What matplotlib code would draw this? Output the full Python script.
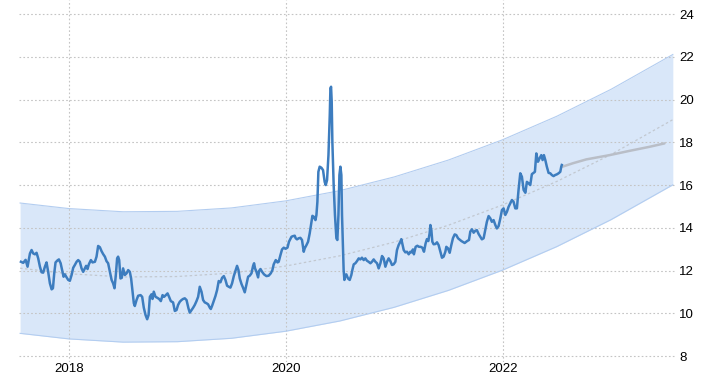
import matplotlib
matplotlib.use("Agg")
import matplotlib.pyplot as plt

# weekly series, decimal years
dates = [
    2017.558, 2017.579, 2017.601, 2017.619, 2017.641, 2017.656, 2017.671, 2017.687, 2017.702, 2017.717,
    2017.733, 2017.748, 2017.763, 2017.779, 2017.794, 2017.809, 2017.825, 2017.841, 2017.853, 2017.865,
    2017.877, 2017.896, 2017.908, 2017.924, 2017.938, 2017.951, 2017.963, 2017.979, 2017.994, 2018.009,
    2018.025, 2018.040, 2018.055, 2018.071, 2018.086, 2018.101, 2018.117, 2018.132, 2018.147, 2018.159,
    2018.172, 2018.184, 2018.203, 2018.218, 2018.240, 2018.255, 2018.270, 2018.286, 2018.301, 2018.316,
    2018.332, 2018.347, 2018.362, 2018.378, 2018.394, 2018.408, 2018.421, 2018.433, 2018.445, 2018.454,
    2018.464, 2018.476, 2018.488, 2018.500, 2018.516, 2018.532, 2018.547, 2018.562, 2018.574, 2018.587,
    2018.599, 2018.608, 2018.624, 2018.639, 2018.661, 2018.676, 2018.691, 2018.707, 2018.722, 2018.735,
    2018.747, 2018.762, 2018.771, 2018.783, 2018.799, 2018.814, 2018.832, 2018.848, 2018.864, 2018.878,
    2018.894, 2018.910, 2018.924, 2018.940, 2018.961, 2018.977, 2018.993, 2019.007, 2019.023, 2019.039,
    2019.053, 2019.069, 2019.085, 2019.103, 2019.115, 2019.131, 2019.146, 2019.161, 2019.177, 2019.192,
    2019.207, 2019.223, 2019.238, 2019.253, 2019.269, 2019.284, 2019.300, 2019.309, 2019.321, 2019.336,
    2019.352, 2019.367, 2019.382, 2019.398, 2019.413, 2019.429, 2019.444, 2019.459, 2019.475, 2019.490,
    2019.505, 2019.521, 2019.536, 2019.551, 2019.564, 2019.576, 2019.592, 2019.606, 2019.622, 2019.638,
    2019.653, 2019.668, 2019.684, 2019.699, 2019.708, 2019.717, 2019.730, 2019.745, 2019.754, 2019.767,
    2019.782, 2019.800, 2019.822, 2019.843, 2019.862, 2019.877, 2019.889, 2019.908, 2019.924, 2019.935,
    2019.951, 2019.966, 2019.982, 2019.997, 2020.016, 2020.030, 2020.053, 2020.067, 2020.083, 2020.092,
    2020.104, 2020.120, 2020.135, 2020.150, 2020.166, 2020.175, 2020.191, 2020.206, 2020.221, 2020.237,
    2020.246, 2020.258, 2020.274, 2020.283, 2020.292, 2020.301, 2020.313, 2020.329, 2020.344, 2020.359,
    2020.369, 2020.381, 2020.394, 2020.406, 2020.412, 2020.418, 2020.424, 2020.430, 2020.442, 2020.454,
    2020.467, 2020.476, 2020.486, 2020.495, 2020.504, 2020.513, 2020.519, 2020.528, 2020.534, 2020.541,
    2020.550, 2020.559, 2020.574, 2020.590, 2020.605, 2020.614, 2020.627, 2020.642, 2020.657, 2020.673,
    2020.688, 2020.703, 2020.719, 2020.734, 2020.749, 2020.764, 2020.781, 2020.795, 2020.811, 2020.827,
    2020.842, 2020.857, 2020.873, 2020.888, 2020.903, 2020.919, 2020.934, 2020.949, 2020.965, 2020.980,
    2020.995, 2021.011, 2021.026, 2021.041, 2021.057, 2021.066, 2021.075, 2021.088, 2021.103, 2021.118,
    2021.134, 2021.149, 2021.161, 2021.173, 2021.182, 2021.198, 2021.214, 2021.229, 2021.244, 2021.260,
    2021.275, 2021.290, 2021.302, 2021.315, 2021.327, 2021.334, 2021.343, 2021.352, 2021.364, 2021.380,
    2021.395, 2021.410, 2021.426, 2021.441, 2021.456, 2021.472, 2021.481, 2021.496, 2021.512, 2021.527,
    2021.542, 2021.558, 2021.573, 2021.589, 2021.620, 2021.650, 2021.673, 2021.690, 2021.702, 2021.717,
    2021.733, 2021.748, 2021.763, 2021.779, 2021.794, 2021.809, 2021.825, 2021.840, 2021.855, 2021.871,
    2021.887, 2021.901, 2021.917, 2021.933, 2021.947, 2021.963, 2021.979, 2021.994, 2022.009, 2022.025,
    2022.040, 2022.055, 2022.071, 2022.086, 2022.101, 2022.117, 2022.132, 2022.147, 2022.163, 2022.178,
    2022.194, 2022.210, 2022.224, 2022.240, 2022.255, 2022.270, 2022.286, 2022.298, 2022.311, 2022.326,
    2022.341, 2022.357, 2022.369, 2022.381, 2022.394, 2022.408, 2022.424, 2022.440, 2022.454, 2022.470,
    2022.485, 2022.500, 2022.516, 2022.532, 2022.541, 2022.546,
]
values = [
    12.41, 12.36, 12.50, 12.18, 12.80, 12.96, 12.80, 12.76, 12.83, 12.57,
    12.18, 11.92, 11.90, 12.18, 12.38, 11.94, 11.40, 11.12, 11.17, 11.87,
    12.38, 12.48, 12.52, 12.34, 12.02, 11.71, 11.82, 11.68, 11.56, 11.52,
    11.79, 12.13, 12.26, 12.41, 12.49, 12.41, 12.10, 11.94, 12.10, 12.22,
    12.07, 12.29, 12.49, 12.38, 12.41, 12.65, 13.15, 13.09, 12.91, 12.77,
    12.65, 12.44, 12.34, 11.94, 11.56, 11.40, 11.17, 11.79, 12.57, 12.65,
    12.49, 11.63, 11.66, 12.10, 11.79, 11.87, 12.02, 11.94, 11.63, 11.01,
    10.47, 10.34, 10.62, 10.82, 10.85, 10.77, 10.26, 9.92, 9.72, 9.92,
    10.77, 10.89, 10.67, 11.01, 10.77, 10.73, 10.67, 10.57, 10.85, 10.77,
    10.85, 10.93, 10.77, 10.57, 10.51, 10.11, 10.15, 10.39, 10.54, 10.62,
    10.67, 10.70, 10.62, 10.23, 10.03, 10.15, 10.26, 10.39, 10.57, 10.77,
    11.24, 11.01, 10.62, 10.51, 10.47, 10.42, 10.26, 10.20, 10.35, 10.57,
    10.81, 11.09, 11.51, 11.45, 11.66, 11.74, 11.56, 11.29, 11.24, 11.20,
    11.40, 11.74, 11.98, 12.22, 12.02, 11.63, 11.37, 11.20, 10.98, 11.35,
    11.71, 11.76, 11.87, 12.22, 12.34, 12.10, 11.94, 11.68, 11.98, 12.07,
    11.94, 11.82, 11.74, 11.76, 11.87, 12.02, 12.29, 12.49, 12.38, 12.41,
    12.72, 12.99, 13.07, 13.02, 13.07, 13.35, 13.58, 13.61, 13.63, 13.51,
    13.46, 13.51, 13.53, 13.43, 12.88, 13.04, 13.19, 13.35, 13.74, 14.28,
    14.56, 14.52, 14.36, 14.60, 15.22, 16.62, 16.86, 16.81, 16.70, 16.15,
    16.00, 16.23, 17.40, 19.27, 20.52, 20.60, 19.90, 18.03, 16.00, 14.60,
    13.51, 13.43, 14.60, 16.47, 16.86, 16.47, 14.60, 13.04, 12.02, 11.56,
    11.79, 11.82, 11.63, 11.56, 11.79, 12.02, 12.29, 12.34, 12.44, 12.57,
    12.52, 12.60, 12.49, 12.57, 12.46, 12.41, 12.34, 12.41, 12.52, 12.41,
    12.34, 12.10, 12.34, 12.68, 12.57, 12.18, 12.41, 12.57, 12.44, 12.26,
    12.29, 12.41, 12.96, 13.19, 13.35, 13.47, 13.27, 12.96, 12.85, 12.88,
    12.76, 12.88, 12.85, 12.99, 12.76, 13.11, 13.16, 13.11, 13.11, 13.07,
    12.88, 13.27, 13.47, 13.38, 13.74, 14.13, 13.89, 13.35, 13.23, 13.24,
    13.32, 13.19, 12.88, 12.60, 12.65, 12.88, 13.11, 13.04, 12.83, 13.19,
    13.51, 13.69, 13.66, 13.51, 13.38, 13.29, 13.38, 13.43, 13.82, 13.93,
    13.77, 13.86, 13.89, 13.71, 13.58, 13.46, 13.51, 13.89, 14.28, 14.55,
    14.44, 14.28, 14.36, 14.13, 13.97, 14.08, 14.44, 14.83, 14.91, 14.60,
    14.75, 14.98, 15.14, 15.30, 15.22, 14.91, 14.91, 15.77, 16.55, 16.39,
    15.77, 15.64, 16.15, 16.08, 16.00, 16.51, 16.57, 16.62, 17.48, 17.09,
    17.25, 17.40, 17.17, 17.40, 17.17, 16.86, 16.57, 16.55, 16.47, 16.42,
    16.47, 16.50, 16.55, 16.62, 16.86, 16.94,
]

# forecast
fc_dates = [2022.546, 2022.648, 2022.771, 2022.986, 2023.170, 2023.355, 2023.493]
fc_values = [16.85, 17.02, 17.20, 17.40, 17.60, 17.79, 17.95]

# long-term trend and its band
trend_dates = [2017.55, 2018.0, 2018.5, 2019.0, 2019.5, 2020.0, 2020.5,
               2021.0, 2021.5, 2022.0, 2022.5, 2023.0, 2023.57]
trend_mid = [12.11, 11.85, 11.70, 11.72, 11.88, 12.21, 12.69,
             13.33, 14.12, 15.07, 16.17, 17.43, 19.06]
trend_upper = [15.16, 14.90, 14.75, 14.77, 14.93, 15.26, 15.74,
               16.38, 17.17, 18.12, 19.22, 20.48, 22.11]
trend_lower = [9.06, 8.80, 8.65, 8.67, 8.83, 9.16, 9.64,
               10.28, 11.07, 12.02, 13.12, 14.38, 16.01]

year_ticks = [2018, 2020, 2022]
y_ticks = [8, 10, 12, 14, 16, 18, 20, 22, 24]

plt.rcParams['font.family'] = ['Liberation Sans', 'DejaVu Sans']

fig = plt.figure(figsize=(7.06, 3.82), dpi=100)
ax = fig.add_axes([19 / 706, 1 - 362 / 382, 656 / 706, 362 / 382])

ax.fill_between(trend_dates, trend_lower, trend_upper, color="#d9e7f9", lw=0, zorder=1)
ax.plot(trend_dates, trend_upper, color="#b3cdf0", lw=0.8, zorder=2)
ax.plot(trend_dates, trend_lower, color="#b3cdf0", lw=0.8, zorder=2)
ax.plot(trend_dates, trend_mid, color="#c2c8d0", lw=0.9, ls=(0, (2, 2)), zorder=2)

ax.plot(fc_dates, fc_values, color="#b9bec7", lw=1.8, zorder=3, solid_capstyle="round")
ax.plot(dates, values, color="#3d7dbf", lw=1.8, zorder=4, solid_joinstyle="round")

ax.set_xlim(2017.54, 2023.59)
ax.set_ylim(7.72, 24.66)
ax.set_xticks(year_ticks)
ax.set_xticklabels([str(y) for y in year_ticks])
ax.set_yticks(y_ticks)
ax.yaxis.tick_right()
ax.tick_params(axis="both", length=0, labelsize=9.5, colors="black")
ax.tick_params(axis="y", pad=3)
ax.tick_params(axis="x", pad=1)
ax.grid(True, color="#c4c4c4", ls=(0, (1.5, 2)), lw=0.8, zorder=0)
for s in ax.spines.values():
    s.set_visible(False)

fig.savefig("out.png", dpi=100)
